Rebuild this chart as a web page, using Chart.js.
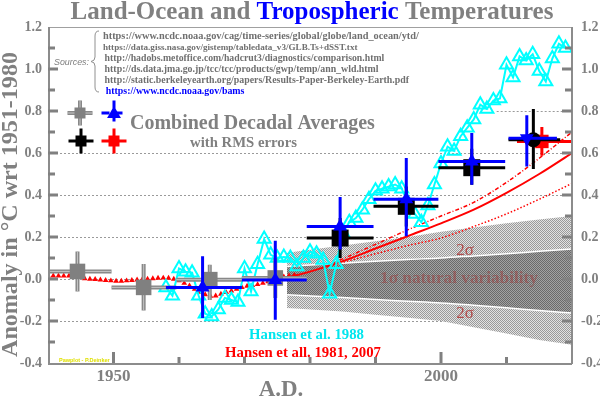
<!DOCTYPE html>
<html><head><meta charset="utf-8">
<script src="https://cdn.jsdelivr.net/npm/chart.js@4"></script>
<style>html,body{margin:0;padding:0;background:#fff;}canvas{display:block;}</style>
</head><body>
<canvas id="c" width="600" height="398"></canvas>
<script>
// ---------------- DATA ----------------
const xTickLabels = ['1950', '2000'];
const yTickLabels = ['-0.4','-0.2','0.0','0.2','0.4','0.6','0.8','1.0','1.2'];

// annual series (cyan, "Hansen et al. 1988")
const cyanYears = [1958,1959,1960,1961,1962,1963,1964,1965,1966,1967,1968,1969,1970,1971,1972,1973,1974,1975,1976,1977,1978,1979,1980,1981,1982,1983,1984,1985,1986,1987,1988,1989,1990,1991,1992,1993,1994,1995,1996,1997,1998,1999,2000,2001,2002,2003,2004,2005,2006,2007,2008,2009,2010,2011,2012,2013,2014,2015,2016,2017,2018,2019];
const cyanValues = [-0.04,-0.08,0.05,0.035,0.03,-0.08,-0.165,-0.178,-0.145,-0.09,-0.10,-0.11,0.05,-0.06,0.07,0.19,0.115,0.10,0.105,0.10,0.06,0.10,0.13,0.12,0.09,-0.07,0.07,0.22,0.27,0.29,0.33,0.38,0.42,0.43,0.44,0.45,0.43,0.36,0.31,0.27,0.35,0.45,0.55,0.63,0.61,0.68,0.72,0.76,0.83,0.81,0.85,0.86,1.02,0.96,1.06,1.04,1.07,0.99,0.94,1.05,1.12,1.10];

// small red triangles (Hansen et al. 1981, historical part)
const redTriYears = [1940.0,1940.8,1941.6,1942.4,1943.2,1944.0,1944.8,1945.6,1946.4,1947.2,1948.0,1948.8,1949.6,1950.4,1951.2,1952.0,1952.8,1953.6,1954.4,1955.2,1956.0,1956.8,1957.6,1958.4,1959.2,1960.0,1960.8,1961.6,1962.4,1963.2,1964.0,1964.8,1965.6,1966.4,1967.2,1968.0,1968.8,1969.6,1970.4,1971.2,1972.0,1972.8,1973.6,1974.4,1975.2,1976.0,1976.8,1977.6];
const redTriValues = [0.015,0.015,0.015,0.015,0.015,0.012,0.008,0.002,0.0,-0.002,-0.004,-0.006,-0.008,-0.01,-0.01,-0.008,-0.006,-0.004,-0.002,0.0,0.002,0.004,0.005,0.004,0.0,-0.008,-0.02,-0.032,-0.048,-0.062,-0.074,-0.082,-0.08,-0.072,-0.064,-0.056,-0.048,-0.04,-0.034,-0.03,-0.026,-0.02,-0.012,-0.004,0.004,0.01,0.015,0.018];

// red model projection lines
const redLineYears = [1977,1980,1985,1990,1995,2000,2005,2010,2015,2020];
const redLineValues = [0.01,0.035,0.085,0.145,0.205,0.265,0.33,0.41,0.50,0.60];
const redRangeYears = [1982,1990,1995,2000,2005,2010,2015,2020];
const redUpperValues = [0.055,0.165,0.235,0.30,0.365,0.46,0.575,0.70];
const redLowerValues = [0.055,0.12,0.16,0.195,0.25,0.31,0.38,0.455];

// natural variability band
const bandYears = [1976.5,1985,1990,1995,2000,2005,2010,2015,2020];
const band2Upper = [0.125,0.16,0.18,0.20,0.225,0.245,0.265,0.283,0.30];
const band1Upper = [0.06,0.075,0.085,0.093,0.10,0.11,0.12,0.132,0.143];
const band1Lower = [-0.075,-0.088,-0.098,-0.106,-0.114,-0.125,-0.137,-0.15,-0.162];
const band2Lower = [-0.138,-0.155,-0.17,-0.185,-0.2,-0.23,-0.26,-0.29,-0.313];

// decadal averages with RMS errors
const grayX = [1944.5,1954.6,1964.7,1974.7];
const grayY = [0.036,-0.04,-0.003,0.005];
const grayXlo = [1940,1949.7,1959.6,1969.6];
const grayXhi = [1949.7,1959.6,1969.6,1979.5];
const grayYlo = [-0.059,-0.15,-0.1,-0.09];
const grayYhi = [0.131,0.071,0.068,0.10];

const blueX = [1963.6,1974.7,1984.6,1994.7,2004.7,2013.1];
const blueY = [-0.04,-0.005,0.25,0.38,0.56,0.67];
const blueXlo = [1958,1969.6,1979.5,1989.7,1999.6,2010.3];
const blueXhi = [1969.6,1979.5,1989.7,1999.6,2009.8,2017.7];
const blueYlo = [-0.186,-0.194,0.14,0.203,0.449,0.536];
const blueYhi = [0.108,0.182,0.39,0.576,0.695,0.78];

const blackX = [1984.6,1994.7,2004.7,2014.1];
const blackY = [0.195,0.346,0.53,0.663];
const blackXlo = [1979.5,1989.7,1999.6,2010.3];
const blackXhi = [1989.7,1999.6,2009.8,2018.2];
const blackYlo = [0.10,0.25,0.449,0.524];
const blackYhi = [0.29,0.44,0.62,0.81];

const redDecX = [2015.4];
const redDecY = [0.655];
const redDecXlo = [2011.6];
const redDecXhi = [2020];
const redDecYlo = [0.587];
const redDecYhi = [0.724];

const gridLevels = [-0.2, 0.0, 0.2, 0.4, 0.6];
const partialGrid = { value: 0.8, fromYear: 2008.5 };

const sourceLines = [
  'https://www.ncdc.noaa.gov/cag/time-series/global/globe/land_ocean/ytd/',
  'https://data.giss.nasa.gov/gistemp/tabledata_v3/GLB.Ts+dSST.txt',
  'http://hadobs.metoffice.com/hadcrut3/diagnostics/comparison.html',
  'http://ds.data.jma.go.jp/tcc/tcc/products/gwp/temp/ann_wld.html',
  'http://static.berkeleyearth.org/papers/Results-Paper-Berkeley-Earth.pdf',
  'https://www.ncdc.noaa.gov/bams'
];

// ---------------- HELPERS ----------------
const canvas = document.getElementById('c');
const ctx = canvas.getContext('2d');
const SERIF = "'Liberation Serif', 'DejaVu Serif', serif";
const GRAY = '#808080';

function pts(xs, ys) { return xs.map((x, i) => ({ x: x, y: ys[i] })); }
function errorSegments(xc, yc, xlo, xhi, ylo, yhi) {
  const out = [];
  xc.forEach((x, i) => {
    out.push({ x: xlo[i], y: yc[i] }, { x: xhi[i], y: yc[i] }, { x: xhi[i], y: null });
    out.push({ x: x, y: ylo[i] }, { x: x, y: yhi[i] }, { x: x, y: null });
  });
  return out;
}
function pattern(bg, dot) {
  const p = document.createElement('canvas'); p.width = 2; p.height = 2;
  const g = p.getContext('2d');
  g.fillStyle = bg; g.fillRect(0, 0, 2, 2);
  g.fillStyle = dot; g.fillRect(0, 0, 1, 1); g.fillRect(1, 1, 1, 1);
  return ctx.createPattern(p, 'repeat');
}
function lineDS(data, color, width, order, extra) {
  return Object.assign({ data: data, borderColor: color, borderWidth: width, pointRadius: 0,
    pointHoverRadius: 0, showLine: true, fill: false, spanGaps: false, tension: 0, order: order }, extra || {});
}
function markerDS(data, color, style, radius, order, extra) {
  return Object.assign({ data: data, showLine: false, pointStyle: style, pointRadius: radius,
    pointHoverRadius: radius, pointBackgroundColor: color, pointBorderColor: color, pointBorderWidth: 0,
    order: order }, extra || {});
}

const lightPat = pattern('#e2e2e2', '#9a9a9a');
const darkPat = pattern('#a2a2a2', '#6a6a6a');

const datasets = [];
// band (index 0..3)
datasets.push(lineDS(pts(bandYears, band2Upper), 'rgba(0,0,0,0)', 0, 100, { fill: { target: 1 }, backgroundColor: lightPat }));
datasets.push(lineDS(pts(bandYears, band2Lower), 'rgba(0,0,0,0)', 0, 99));
datasets.push(lineDS(pts(bandYears, band1Upper), '#ffffff', 1.5, 98, { fill: { target: 3 }, backgroundColor: darkPat, cubicInterpolationMode: 'monotone' }));
datasets.push(lineDS(pts(bandYears, band1Lower), '#ffffff', 1.5, 97, { cubicInterpolationMode: 'monotone' }));
// red triangles & model lines
datasets.push(markerDS(pts(redTriYears, redTriValues), '#ff0000', 'triangle', 3.3, 80));
datasets.push(lineDS(pts(redRangeYears, redUpperValues), '#ff0000', 1.5, 75, { borderDash: [4, 2, 1, 2], cubicInterpolationMode: 'monotone' }));
datasets.push(lineDS(pts(redRangeYears, redLowerValues), '#ff0000', 1.5, 74, { borderDash: [1.5, 2], cubicInterpolationMode: 'monotone' }));
datasets.push(lineDS(pts(redLineYears, redLineValues), '#ff0000', 2, 73, { cubicInterpolationMode: 'monotone' }));
// cyan annual series
datasets.push(lineDS(pts(cyanYears, cyanValues), '#00ffff', 2, 60, {
  pointStyle: 'triangle', pointRadius: 7.5, pointHoverRadius: 7.5, pointBorderColor: '#00ffff',
  pointBackgroundColor: 'rgba(255,255,255,0)', pointBorderWidth: 2 }));
// gray decadal
datasets.push(lineDS(errorSegments(grayX, grayY, grayXlo, grayXhi, grayYlo, grayYhi), '#888888', 4, 55));
datasets.push(lineDS(errorSegments(grayX, grayY, grayXlo, grayXhi, grayYlo, grayYhi), '#c4c4c4', 1, 54));
datasets.push(markerDS(pts(grayX, grayY), '#808080', 'rect', 11, 53));
// red decadal
datasets.push(lineDS(errorSegments(redDecX, redDecY, redDecXlo, redDecXhi, redDecYlo, redDecYhi), '#ff0000', 3, 46));
datasets.push(markerDS(pts(redDecX, redDecY), '#ff0000', 'rect', 9.5, 45));
// black decadal
datasets.push(lineDS(errorSegments(blackX, blackY, blackXlo, blackXhi, blackYlo, blackYhi), '#000000', 3, 42));
datasets.push(markerDS(pts(blackX, blackY), '#000000', ['rect','rect','rect','circle'], [12,12,12,7.5], 41));
// blue decadal
datasets.push(lineDS(errorSegments(blueX, blueY, blueXlo, blueXhi, blueYlo, blueYhi), '#0000ff', 3, 32));
datasets.push(markerDS(pts(blueX, blueY), '#0000ff', 'triangle', 8, 31, { pointRotation: [0,0,0,0,0,180] }));

// ---------------- DECORATION PLUGIN ----------------
function fitFont(c, text, style, size, family, target) {
  c.font = style + ' ' + size + 'px ' + family;
  const w = c.measureText(text).width;
  return size * target / w;
}
function fitText(c, text, x, y, target, style, base, family, color, align) {
  const s = fitFont(c, text, style, base, family, target);
  c.font = style + ' ' + s + 'px ' + family;
  c.fillStyle = color; c.textAlign = align || 'left'; c.textBaseline = 'alphabetic';
  c.fillText(text, x, y);
}
function legendBars(c, x, y, arm, color, width, dash) {
  c.save(); c.strokeStyle = color; c.lineWidth = width; c.setLineDash(dash || []);
  c.beginPath(); c.moveTo(x - arm, y); c.lineTo(x + arm, y); c.moveTo(x, y - arm); c.lineTo(x, y + arm); c.stroke();
  c.restore();
}
function legendTri(c, x, y, r, color) {
  c.beginPath();
  for (let k = 0; k < 3; k++) { const a = k * 2 * Math.PI / 3; c.lineTo(x + Math.sin(a) * r, y - Math.cos(a) * r); }
  c.closePath(); c.fillStyle = color; c.fill();
}

const deco = {
  id: 'deco',
  beforeDraw(chart) {
    const c = chart.ctx; c.save(); c.fillStyle = '#fff'; c.fillRect(0, 0, chart.width, chart.height); c.restore();
  },
  beforeDatasetsDraw(chart) {
    const c = chart.ctx, a = chart.chartArea, ys = chart.scales.y, xs = chart.scales.x;
    c.save(); c.strokeStyle = '#9a9a9a'; c.lineWidth = 1; c.setLineDash([2, 2]);
    gridLevels.forEach(v => { const py = Math.round(ys.getPixelForValue(v)) + 0.5;
      c.beginPath(); c.moveTo(a.left, py); c.lineTo(a.right, py); c.stroke(); });
    const py = Math.round(ys.getPixelForValue(partialGrid.value)) + 0.5;
    c.beginPath(); c.moveTo(xs.getPixelForValue(partialGrid.fromYear), py); c.lineTo(a.right, py); c.stroke();
    c.restore();
  },
  afterDatasetsDraw(chart) {
    const c = chart.ctx, a = chart.chartArea, ys = chart.scales.y, xs = chart.scales.x;
    c.save();
    // frame
    c.strokeStyle = '#a0a0a0'; c.lineWidth = 1;
    c.beginPath(); c.moveTo(a.left, a.top + 0.5); c.lineTo(a.right, a.top + 0.5); c.stroke();
    c.strokeStyle = '#8c8c8c'; c.lineWidth = 2;
    c.beginPath(); c.moveTo(a.left + 1, a.top); c.lineTo(a.left + 1, a.bottom + 1);
    c.lineTo(a.right, a.bottom + 1); c.moveTo(a.right, a.top); c.lineTo(a.right, a.bottom + 1); c.stroke();
    // inward tick marks
    c.strokeStyle = '#808080'; c.lineWidth = 3;
    ys.ticks.forEach(t => {
      const k = Math.round(t.value * 10); if (k === -4 || k === 12) return;
      const len = (k % 2 === 0) ? 10 : 7; const py = ys.getPixelForValue(t.value);
      c.beginPath(); c.moveTo(a.left, py); c.lineTo(a.left + len, py);
      c.moveTo(a.right, py); c.lineTo(a.right - len, py); c.stroke();
    });
    xs.ticks.forEach(t => {
      if (t.value <= xs.min || t.value >= xs.max) return;
      const len = xTickLabels.includes(String(t.value)) ? 11 : 6; const px = xs.getPixelForValue(t.value);
      c.beginPath(); c.moveTo(px, a.bottom); c.lineTo(px, a.bottom - len); c.stroke();
    });
    // title
    const parts = [['Land-Ocean and ', GRAY], ['Tropospheric', '#0000ff'], [' Temperatures', GRAY]];
    const full = parts.map(p => p[0]).join('');
    const ts = fitFont(c, full, 'bold', 24, SERIF, 483);
    c.font = 'bold ' + ts + 'px ' + SERIF; c.textBaseline = 'alphabetic'; c.textAlign = 'left';
    let tx = 312 - c.measureText(full).width / 2;
    parts.forEach(p => { c.fillStyle = p[1]; c.fillText(p[0], tx, 18.5); tx += c.measureText(p[0]).width; });
    // y axis title
    c.save(); c.translate(11, 204.5); c.rotate(-Math.PI / 2);
    const yt = 'Anomaly in °C wrt 1951-1980';
    const ysz = fitFont(c, yt, 'bold', 21, SERIF, 305);
    c.font = 'bold ' + ysz + 'px ' + SERIF; c.fillStyle = GRAY; c.textAlign = 'center'; c.textBaseline = 'middle';
    c.fillText(yt, 0, 0); c.restore();
    // x axis title
    c.font = 'bold 23px ' + SERIF; c.fillStyle = GRAY; c.textAlign = 'center'; c.textBaseline = 'alphabetic';
    c.fillText('A.D.', 281, 396);
    // sources
    fitText(c, 'Sources:', 54, 65, 35, 'italic', 10, "'Liberation Sans', sans-serif", '#808080');
    c.strokeStyle = '#909090'; c.lineWidth = 1;
    c.beginPath(); c.moveTo(99, 31); c.quadraticCurveTo(95, 31, 95, 36); c.lineTo(95, 57);
    c.quadraticCurveTo(95, 61, 91, 61.5); c.quadraticCurveTo(95, 62, 95, 66); c.lineTo(95, 87);
    c.quadraticCurveTo(95, 92, 99, 92); c.stroke();
    const srcX = [103, 103, 104.6, 104.6, 104.6, 105.7];
    const srcW = [316, 255, 280, 274, 305, 139];
    sourceLines.forEach((s, i) => {
      fitText(c, s, srcX[i], 38.5 + 11 * i, srcW[i], 'bold', 10, SERIF, i === 5 ? '#0000ff' : '#707070');
    });
    // legend
    legendBars(c, 80, 113, 12.5, '#888888', 4); legendBars(c, 80, 113, 12.5, '#c4c4c4', 1);
    c.fillStyle = '#808080'; c.fillRect(74.5, 107.5, 11, 11);
    legendBars(c, 114, 113, 12.5, '#0000ff', 3, [8, 5]);
    legendTri(c, 114, 114, 8, '#0000ff');
    legendBars(c, 81, 141, 12.5, '#000000', 3);
    c.fillStyle = '#000000'; c.fillRect(75.5, 135.5, 11, 11);
    legendBars(c, 114, 141, 12.5, '#ff0000', 3);
    c.fillStyle = '#ff0000'; c.fillRect(108.5, 135.5, 11, 11);
    fitText(c, 'Combined Decadal Averages', 130, 128.5, 245, 'bold', 20, SERIF, GRAY);
    fitText(c, 'with RMS errors', 190, 147, 107, 'bold', 14, SERIF, GRAY);
    // band labels
    c.textAlign = 'center'; c.textBaseline = 'middle';
    c.font = '17px ' + SERIF; c.fillStyle = 'rgba(175,55,55,0.85)';
    c.fillText('2σ', 465, 251); c.fillText('2σ', 465, 313.5);
    const ns = fitFont(c, '1σ natural variability', 'bold', 16, SERIF, 158);
    c.font = 'bold ' + ns + 'px ' + SERIF; c.fillStyle = 'rgba(160,50,50,0.45)'; c.textAlign = 'center';
    c.fillText('1σ natural variability', 459, 279);
    // series labels
    fitText(c, 'Hansen et al. 1988', 306.5, 339, 115, 'bold', 15, SERIF, '#00e6ee', 'center');
    fitText(c, 'Hansen et all. 1981, 2007', 303, 357, 156, 'bold', 15, SERIF, '#ff0000', 'center');
    // tiny credit
    c.font = 'bold 5.5px ' + "'Liberation Sans', sans-serif"; c.fillStyle = '#e0e000';
    c.textAlign = 'left'; c.textBaseline = 'alphabetic'; c.fillText('Pawplot - P.Deinker', 59, 361.5);
    c.restore();
  }
};

const tickFontY = { family: SERIF, weight: 'bold', size: 14 };
const yLabel = v => { const k = Math.round(v * 10); return (k % 2 === 0) ? yTickLabels[(k + 4) / 2] : ''; };

new Chart(ctx, {
  type: 'line',
  data: { datasets: datasets },
  options: {
    responsive: false, animation: false, events: [],
    layout: { padding: { top: 27, left: 0, right: 0, bottom: 0 } },
    plugins: { legend: { display: false }, tooltip: { enabled: false }, title: { display: false } },
    scales: {
      x: { type: 'linear', min: 1940, max: 2020,
        afterFit: s => { s.height = 35; },
        grid: { display: false, drawTicks: false }, border: { display: false },
        ticks: { stepSize: 10, autoSkip: false, maxRotation: 0, padding: 3, color: GRAY,
          font: { family: SERIF, weight: 'bold', size: 17 },
          callback: v => xTickLabels.includes(String(v)) ? String(v) : '' } },
      y: { min: -0.4, max: 1.2, position: 'left',
        afterFit: s => { s.width = 48; },
        grid: { display: false, drawTicks: false }, border: { display: false },
        ticks: { stepSize: 0.1, autoSkip: false, padding: 6, color: GRAY, font: tickFontY, callback: yLabel } },
      y2: { min: -0.4, max: 1.2, position: 'right',
        afterFit: s => { s.width = 28; },
        grid: { display: false, drawTicks: false }, border: { display: false },
        ticks: { stepSize: 0.1, autoSkip: false, padding: 9, color: GRAY, font: tickFontY, callback: yLabel } }
    }
  },
  plugins: [deco]
});
</script>
</body></html>
